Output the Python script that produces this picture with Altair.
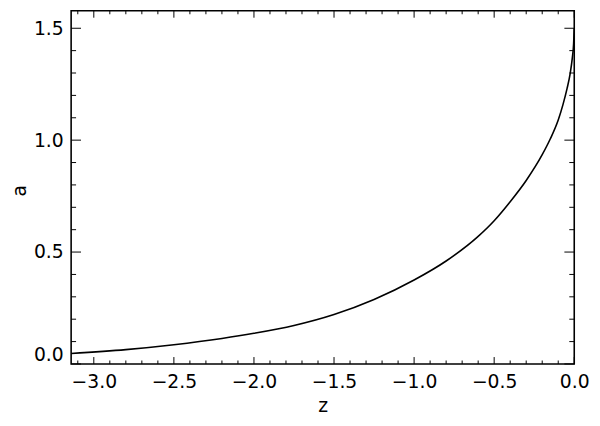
import altair as alt
import pandas as pd

# curve
z_vals = [-3.1416, -2.8, -2.5, -2.2, -2.0, -1.75, -1.5, -1.25, -1.0, -0.8, -0.6,
          -0.5, -0.4, -0.3, -0.2, -0.15, -0.10, -0.07, -0.045, -0.025, -0.012, -0.004, 0.0]
a_vals = [0.047, 0.064, 0.086, 0.114, 0.137, 0.172, 0.221, 0.288, 0.375, 0.460, 0.570,
          0.640, 0.725, 0.820, 0.935, 1.005, 1.090, 1.160, 1.230, 1.300, 1.368, 1.430, 1.500]

x_major = [-3.0, -2.5, -2.0, -1.5, -1.0, -0.5, 0.0]
x_minor = [-3.1, -2.9, -2.8, -2.7, -2.6, -2.4, -2.3, -2.2, -2.1, -1.9, -1.8, -1.7,
           -1.6, -1.4, -1.3, -1.2, -1.1, -0.9, -0.8, -0.7, -0.6, -0.4, -0.3, -0.2, -0.1]
y_major = [0.0, 0.5, 1.0, 1.5]
y_minor = [0.1, 0.2, 0.3, 0.4, 0.6, 0.7, 0.8, 0.9, 1.1, 1.2, 1.3, 1.4]

W, H = 510, 358
FONT = "DejaVu Sans"

curve = pd.DataFrame({"z": z_vals, "a": a_vals})
xs = alt.Scale(domain=[-3.14159, 0.0], nice=False, zero=False)
ys = alt.Scale(domain=[0.0, 1.578], nice=False, zero=False)

x_axis = alt.Axis(values=x_major, format=".1f", ticks=False, tickSize=0, domain=False,
                  grid=False, labelFontSize=19, labelFont=FONT, labelColor="black",
                  labelPadding=9, labelFlush=False, titleFont=FONT, titleFontSize=19,
                  titleFontWeight="normal", titleColor="black", titleBaseline="alphabetic",
                  titleY=48)
y_axis = alt.Axis(values=y_major, format=".1f", ticks=False, tickSize=0, domain=False,
                  grid=False, labelFontSize=19, labelFont=FONT, labelColor="black",
                  labelPadding=8, labelFlush=True, titleFont=FONT, titleFontSize=19,
                  titleFontWeight="normal", titleColor="black", titleAngle=270,
                  titleBaseline="middle", titleX=-52, titleY=182)

X = lambda: alt.X("z:Q", scale=xs, title="z", axis=x_axis)
Y = lambda: alt.Y("a:Q", scale=ys, title="a", axis=y_axis)

line = alt.Chart(curve).mark_line(color="black", strokeWidth=1.6, interpolate="monotone").encode(
    x=X(), y=Y())

def xticks(vals, length):
    df = pd.DataFrame({"z": vals})
    bottom = alt.Chart(df).mark_rule(color="black", strokeWidth=1).encode(
        x=X(), y=alt.value(H), y2=alt.value(H - length))
    top = alt.Chart(df).mark_rule(color="black", strokeWidth=1).encode(
        x=X(), y=alt.value(0), y2=alt.value(length))
    return [bottom, top]

def yticks(vals, length):
    df = pd.DataFrame({"a": vals})
    left = alt.Chart(df).mark_rule(color="black", strokeWidth=1).encode(
        y=Y(), x=alt.value(0), x2=alt.value(length))
    right = alt.Chart(df).mark_rule(color="black", strokeWidth=1).encode(
        y=Y(), x=alt.value(W), x2=alt.value(W - length))
    return [left, right]

layers = [line] + xticks(x_major, 7) + xticks(x_minor, 3.5) + yticks(y_major, 10) + yticks(y_minor, 5)

chart = alt.layer(*layers).properties(
    width=W, height=H,
    autosize=alt.AutoSizeParams(type="none"),
    padding={"left": 64, "top": 0, "right": 18, "bottom": 56},
    background="white",
).configure_view(stroke="black", strokeWidth=1.6)

chart.save("out.html", embed_options={"renderer": "svg", "actions": False})
